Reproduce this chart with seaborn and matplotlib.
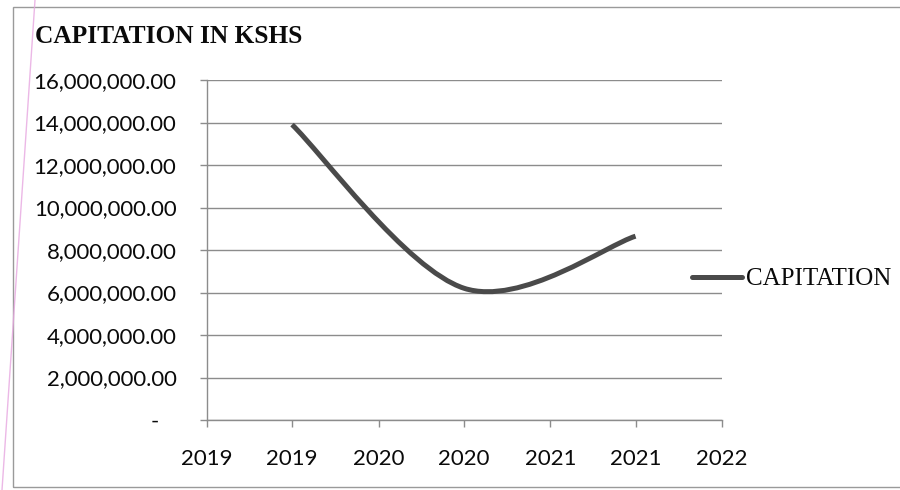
import matplotlib
matplotlib.use("Agg")
import matplotlib.pyplot as plt
import matplotlib.dates as mdates
from matplotlib.path import Path
from matplotlib.patches import PathPatch, Rectangle
from matplotlib.lines import Line2D
from matplotlib.ticker import FuncFormatter, FixedLocator
import numpy as np
import pandas as pd
import seaborn as sns

# Capitation received per period (KSHS)
periods = ["2019-07-01", "2020-07-01", "2021-07-01"]
capitation = [13_900_000, 6_200_000, 8_650_000]
series_name = "CAPITATION"
chart_title = "CAPITATION IN KSHS"

# Axis ticks
y_ticks = [0, 2_000_000, 4_000_000, 6_000_000, 8_000_000,
           10_000_000, 12_000_000, 14_000_000, 16_000_000]
x_tick_dates = ["2019-01-01", "2019-07-01", "2020-01-01", "2020-07-01",
                "2021-01-01", "2021-07-01", "2022-01-01"]

df = pd.DataFrame({"period": pd.to_datetime(periods), "value": capitation})

sns.set_theme(style="white")
plt.rcParams["font.family"] = ["Lato", "DejaVu Sans"]

LINE_COLOR = "#4a4a4a"
GRID_COLOR = "#8c8c8c"
TEXT_COLOR = "#0a0a0a"

fig = plt.figure(figsize=(9.0, 4.9), dpi=100)
fig.patch.set_facecolor("white")
ax = fig.add_axes([207 / 900, 1 - 420 / 490, (722 - 207) / 900, (420 - 80) / 490])

# Series drawn by seaborn; its straight segments are replaced by a smoothed path
sns.lineplot(data=df, x="period", y="value", ax=ax, color=LINE_COLOR,
             linewidth=3.6, legend=False)
ax.lines[0].set_visible(False)

# Smoothed line (Catmull-Rom style cubic Bezier through the data points)
xs = mdates.date2num(df["period"])
ys = df["value"].to_numpy(dtype=float)
pts = np.column_stack([xs, ys])
verts = [tuple(pts[0])]
codes = [Path.MOVETO]
n = len(pts)
for i in range(n - 1):
    p0 = pts[i - 1] if i > 0 else pts[i]
    p1 = pts[i]
    p2 = pts[i + 1]
    p3 = pts[i + 2] if i + 2 < n else pts[i + 1]
    c1 = p1 + (p2 - p0) / 6.0
    c2 = p2 - (p3 - p1) / 6.0
    verts += [tuple(c1), tuple(c2), tuple(p2)]
    codes += [Path.CURVE4] * 3
ax.add_patch(PathPatch(Path(verts, codes), transform=ax.transData,
                       facecolor="none", edgecolor=LINE_COLOR, linewidth=3.6,
                       capstyle="butt", joinstyle="round", zorder=3))

# Axes limits and ticks
tick_dates = mdates.date2num(pd.to_datetime(x_tick_dates))
ax.set_xlim(tick_dates[0], tick_dates[-1])
ax.set_ylim(0, 16_000_000)
ax.xaxis.set_major_locator(FixedLocator(tick_dates))
ax.xaxis.set_major_formatter(mdates.DateFormatter("%Y"))
ax.yaxis.set_major_locator(FixedLocator(y_ticks))
ax.yaxis.set_major_formatter(
    FuncFormatter(lambda v, _: "-   " if v == 0 else f"{v:,.2f}"))

ax.set_xlabel("")
ax.set_ylabel("")
ax.grid(axis="y", color=GRID_COLOR, linewidth=1.0)
ax.grid(axis="x", visible=False)
for side in ("top", "right"):
    ax.spines[side].set_visible(False)
for side in ("left", "bottom"):
    ax.spines[side].set_color(GRID_COLOR)
    ax.spines[side].set_linewidth(1.0)

ax.tick_params(axis="y", left=True, length=5, width=1.0, color=GRID_COLOR,
               pad=17, labelsize=15.9, labelcolor=TEXT_COLOR)
ax.tick_params(axis="x", bottom=True, length=5, width=1.0, color=GRID_COLOR,
               pad=16, labelsize=16, labelcolor=TEXT_COLOR)

# Title
fig.text(35 / 900, 1 - 43 / 490, chart_title, ha="left", va="baseline",
         fontsize=18.3, fontweight="bold", color=TEXT_COLOR,
         family=["Liberation Serif", "DejaVu Serif"])

# Legend
handle = Line2D([], [], color=LINE_COLOR, linewidth=3.6)
fig.legend(handles=[handle], labels=[series_name], loc="center left",
           bbox_to_anchor=(692 / 900, 1 - 279 / 490), frameon=False,
           borderpad=0, borderaxespad=0, handlelength=2.0, handletextpad=0.15,
           prop={"family": ["Liberation Serif", "DejaVu Serif"], "size": 18},
           labelcolor=TEXT_COLOR)

# Chart border
fig.add_artist(Rectangle((13 / 900, 3 / 490), 1.0, 1 - 10 / 490,
                         transform=fig.transFigure, fill=False,
                         edgecolor="#9a9a9a", linewidth=1.0))
# Margin rule on the page
fig.add_artist(Line2D([35 / 900, 2 / 900], [1.0, 0.0], transform=fig.transFigure,
                      color="#e7a6e0", linewidth=1.0, alpha=0.8))

fig.savefig("out.png", dpi=100, facecolor="white")
